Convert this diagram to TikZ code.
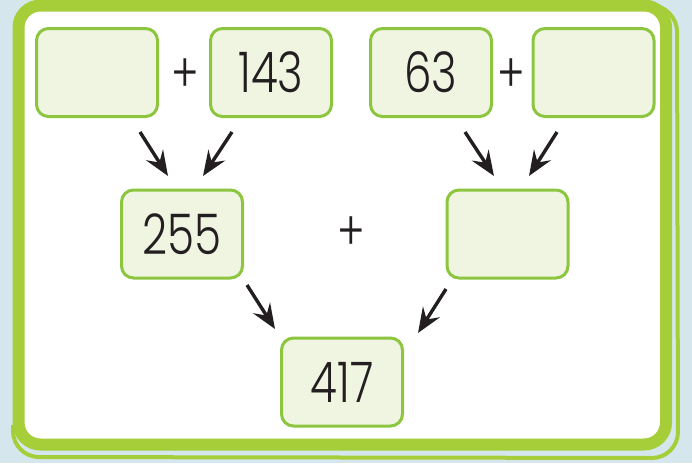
\documentclass[tikz,border=0pt]{standalone}
\usepackage{fontspec}
\setmainfont{Poppins}[UprightFont=* Light, FakeStretch=0.78]
\usetikzlibrary{arrows.meta}
\definecolor{sky}{HTML}{D5E7ED}
\definecolor{lime}{HTML}{A6CE39}
\definecolor{leaf}{HTML}{8CC63F}
\definecolor{pale}{HTML}{F0F5E1}
\definecolor{ink}{HTML}{231F20}

\begin{document}
\begin{tikzpicture}[x=1pt, y=-1pt,
	box/.style={draw=leaf, fill=pale, line width=3pt, rounded corners=12pt,
		minimum width=121pt, minimum height=88pt, inner sep=0pt,
		text=ink, font=\fontsize{56}{56}\selectfont},
	plus/.style={text=ink, font=\fontsize{54}{54}\selectfont, inner sep=0pt},
	arr/.style={draw=ink, line width=3.4pt, -{Stealth[length=25pt,width=20pt,inset=9pt]}}]
	\useasboundingbox (0,0) rectangle (692,463);
	%background
	\fill[sky] (0,0) rectangle (692,463);
	\draw[lime, line width=4pt, rounded corners=26pt]
	(620,4) -- (677,6) -- (678,458) -- (13,457) -- (13,425);
	\draw[lime, fill=white, line width=12pt, rounded corners=22pt]
	(18.5,5.5) rectangle (666,444.5);
	%boxes
	\foreach \n/\x/\y/\t in {
		b1/97/72.5/,
		b2/271/72.5/143,
		b3/431/72.5/63,
		b4/593.5/72.5/,
		b5/182/234/255,
		b6/507.5/234/,
		b7/342/382/417%
	}
	\node[box] (\n) at (\x,\y) {\t};
	%plus signs
	\node[plus] (p1) at (185,76) {+};
	\node[plus] (p2) at (511,76) {+};
	\node[plus] (p3) at (351,234) {+};
	%arrows
	\foreach \n/\xa/\ya/\xb/\yb in {
		1/140/132/168/176,
		2/232/132/203/176,
		3/465/132/494/176,
		4/557/132/529/176,
		5/247/285/275/329,
		6/446/289/418/333%
	}{
		\coordinate (s\n) at (\xa,\ya);
		\coordinate (e\n) at (\xb,\yb);
		\draw[arr] (s\n) -- (e\n);
	}
\end{tikzpicture}
\end{document}
